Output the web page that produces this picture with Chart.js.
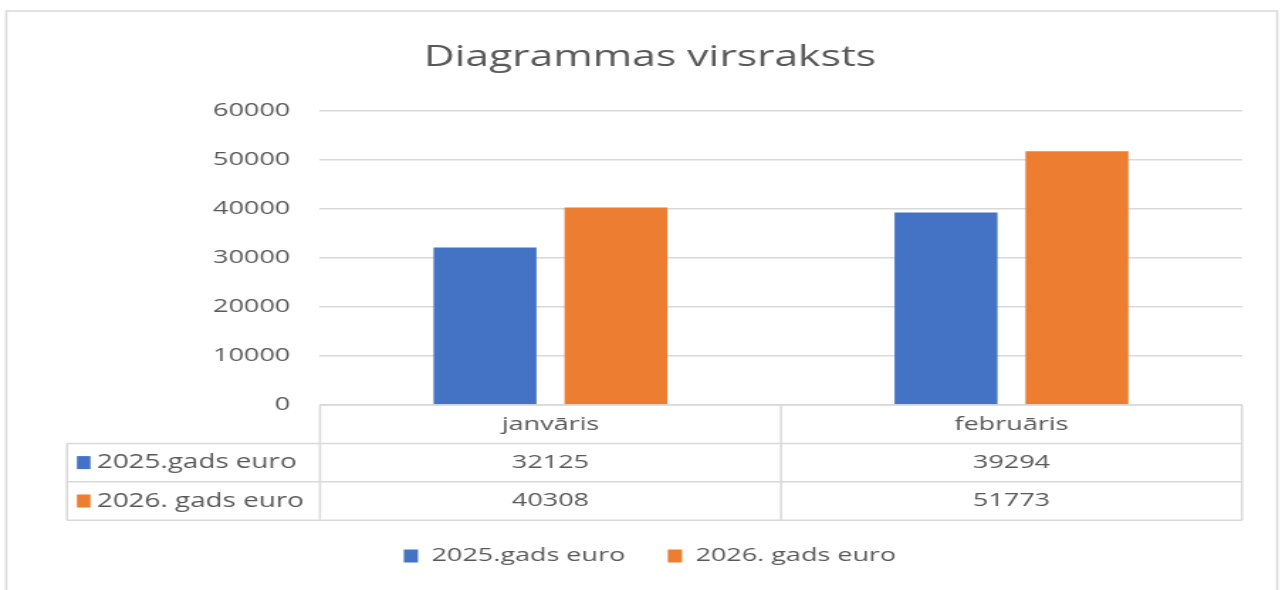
<!DOCTYPE html>
<html>
<head>
<meta charset="utf-8">
<script src="https://cdn.jsdelivr.net/npm/chart.js@4/dist/chart.umd.min.js"></script>
<style>
  html, body { margin: 0; padding: 0; background: #fff; overflow: hidden; }
  #wrap { width: 903px; height: 590px; transform: scale(1.4197, 1); transform-origin: 0 0; }
</style>
</head>
<body>
<div id="wrap"><canvas id="c" width="903" height="590"></canvas></div>
<script>
const chartTitle = 'Diagrammas virsraksts';
const categories = ['janvāris', 'februāris'];
const seriesNames = ['2025.gads euro', '2026. gads euro'];
const values2025 = [32125, 39294];
const values2026 = [40308, 51773];
const yTicks = [0, 10000, 20000, 30000, 40000, 50000, 60000];

const TEXT = '#595959';
const LINE = '#d9d9d9';
const FONT = '"Open Sans", sans-serif';

const framePlugin = {
  id: 'frame',
  beforeDraw(chart) {
    const ctx = chart.ctx;
    ctx.save();
    ctx.fillStyle = '#ffffff';
    ctx.fillRect(0, 0, chart.width, chart.height);
    ctx.strokeStyle = LINE;
    ctx.lineWidth = 1.5;
    ctx.strokeRect(4.4, 11, 895.2, 640);
    ctx.restore();
  }
};

const tablePlugin = {
  id: 'dataTable',
  afterDraw(chart) {
    const { ctx, chartArea, scales } = chart;
    const x = scales.x;
    const rowH = 38.4;
    const left = chartArea.left, right = chartArea.right;
    const labelLeft = left - 178.2;
    const top = chartArea.bottom;
    const rows = [top, top + rowH, top + 2 * rowH, top + 3 * rowH];
    const mid = (x.getPixelForValue(0) + x.getPixelForValue(1)) / 2;
    ctx.save();
    ctx.strokeStyle = LINE;
    ctx.lineWidth = 1.5;
    ctx.beginPath();
    ctx.moveTo(left, rows[0]); ctx.lineTo(right, rows[0]);
    for (let i = 1; i < 4; i++) { ctx.moveTo(labelLeft, rows[i]); ctx.lineTo(right, rows[i]); }
    ctx.moveTo(labelLeft, rows[1]); ctx.lineTo(labelLeft, rows[3]);
    [left, mid, right].forEach(px => { ctx.moveTo(px, rows[0]); ctx.lineTo(px, rows[3]); });
    ctx.stroke();

    ctx.font = '19px ' + FONT;
    ctx.textBaseline = 'middle';
    ctx.textAlign = 'center';
    ctx.fillStyle = TEXT;
    categories.forEach((c, i) => {
      const cx = x.getPixelForValue(i);
      ctx.fillText(c, cx, rows[0] + rowH / 2);
      chart.data.datasets.forEach((ds, j) => {
        ctx.fillText(String(ds.data[i]), cx, rows[j + 1] + rowH / 2);
      });
    });
    ctx.textAlign = 'left';
    ctx.font = '19.6px ' + FONT;
    chart.data.datasets.forEach((ds, j) => {
      const cy = rows[j + 1] + rowH / 2;
      ctx.fillStyle = ds.backgroundColor;
      ctx.fillRect(labelLeft + 7, cy - 6.5, 9.5, 13);
      ctx.fillStyle = TEXT;
      ctx.fillText(ds.label, labelLeft + 21, cy);
    });
    ctx.restore();
  }
};

Chart.defaults.font.family = FONT;
Chart.defaults.color = TEXT;

new Chart(document.getElementById('c'), {
  type: 'bar',
  data: {
    labels: categories,
    datasets: [
      { label: seriesNames[0], data: values2025, backgroundColor: '#4472C4', borderWidth: 0 },
      { label: seriesNames[1], data: values2026, backgroundColor: '#ED7D31', borderWidth: 0 }
    ]
  },
  options: {
    responsive: false,
    animation: false,
    devicePixelRatio: 1,
    categoryPercentage: 0.568,
    barPercentage: 0.786,
    layout: { padding: { left: 40.9, right: 28.2, top: 0, bottom: 14.5 } },
    plugins: {
      title: {
        display: true,
        text: chartTitle,
        color: TEXT,
        font: { size: 30, weight: 'normal', family: FONT },
        padding: { top: 39.8, bottom: 35.2 }
      },
      legend: {
        position: 'bottom',
        labels: {
          color: TEXT,
          font: { size: 19, family: FONT },
          boxWidth: 10,
          boxHeight: 13,
          padding: 30
        }
      },
      tooltip: { enabled: false }
    },
    scales: {
      x: {
        ticks: { display: false },
        grid: { display: false },
        border: { display: false },
        afterFit(scale) { scale.height = 111.5; }
      },
      y: {
        min: 0,
        max: 60000,
        afterBuildTicks(scale) { scale.ticks = yTicks.map(v => ({ value: v })); },
        ticks: {
          color: TEXT,
          font: { size: 19, family: FONT },
          padding: 21,
          callback: v => String(v)
        },
        grid: { color: LINE, lineWidth: 1.5, drawTicks: false },
        border: { display: false },
        afterFit(scale) { scale.width = 184.5; }
      }
    }
  },
  plugins: [framePlugin, tablePlugin]
});
</script>
</body>
</html>
